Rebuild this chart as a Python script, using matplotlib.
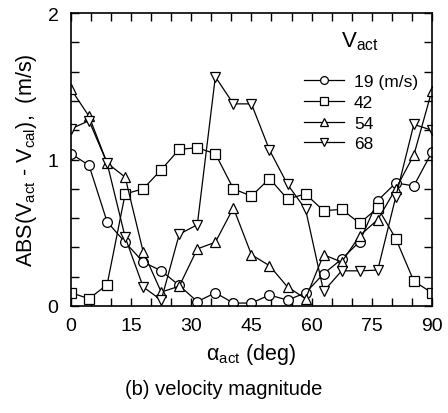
import matplotlib
matplotlib.use("Agg")
import matplotlib.pyplot as plt
import numpy as np
from matplotlib.ticker import MultipleLocator

plt.rcParams['font.family'] = ['Liberation Sans', 'DejaVu Sans']
plt.rcParams['mathtext.fontset'] = 'custom'
plt.rcParams['mathtext.rm'] = 'Liberation Sans'
plt.rcParams['mathtext.it'] = 'Liberation Sans:italic'

# angle of attack (deg), 21 points
alpha = [0, 4.5, 9, 13.5, 18, 22.5, 27, 31.5, 36, 40.5, 45,
         49.5, 54, 58.5, 63, 67.5, 72, 76.5, 81, 85.5, 90]

v19 = [1.04, 0.96, 0.575, 0.435, 0.30, 0.24, 0.14, 0.03, 0.09, 0.02, 0.02,
       0.075, 0.04, 0.09, 0.22, 0.32, 0.44, 0.72, 0.84, 0.82, 1.05]
v42 = [0.09, 0.05, 0.145, 0.765, 0.80, 0.93, 1.07, 1.08, 1.04, 0.80, 0.75,
       0.87, 0.73, 0.765, 0.65, 0.66, 0.565, 0.67, 0.46, 0.17, 0.09]
v54 = [1.48, 1.295, 0.976, 0.88, 0.37, 0.095, 0.135, 0.39, 0.435, 0.67, 0.35,
       0.275, 0.13, 0.05, 0.35, 0.30, 0.48, 0.59, 0.80, 1.03, 1.47]
v68 = [1.21, 1.265, 0.976, 0.47, 0.13, 0.04, 0.49, 0.555, 1.565, 1.38, 1.38,
       1.065, 0.83, 0.66, 0.10, 0.24, 0.24, 0.245, 0.745, 1.24, 1.20]

labels = ['19 (m/s)', '42', '54', '68']
markers = ['o', 's', '^', 'v']

fig = plt.figure(figsize=(4.48, 4.14), dpi=100)
ax = fig.add_axes([0.1585, 0.2585, 0.8055, 0.7075])

for y, lab, m in zip([v19, v42, v54, v68], labels, markers):
    ax.plot(alpha, y, marker=m, color='black', markerfacecolor='white',
            markersize=7, linewidth=0.9, markeredgewidth=0.9, label=lab)

ax.set_xlim(0, 90)
ax.set_ylim(0, 2)
ax.xaxis.set_major_locator(MultipleLocator(15))
ax.xaxis.set_minor_locator(MultipleLocator(5))
ax.yaxis.set_major_locator(MultipleLocator(1))
ax.yaxis.set_minor_locator(MultipleLocator(0.2))
ax.tick_params(which='both', direction='in', top=True, right=True,
               labelsize=14, length=6, width=1)
ax.tick_params(axis='x', pad=8)
ax.tick_params(axis='y', pad=9)
for s in ax.spines.values():
    s.set_linewidth(1.2)

ax.set_xlabel('α$_{\\rm act}$ (deg)', fontsize=15.5, labelpad=5)
ax.set_ylabel(r'ABS(V$_{\rm act}$ - V$_{\rm cal}$),  (m/s)', fontsize=15.5,
              labelpad=6)

# legend title drawn separately (larger gap to the entries)
ax.text(0.80, 0.904, r'V$_{\rm act}$', transform=ax.transAxes,
        ha='center', va='center', fontsize=16)
leg = ax.legend(loc='upper left', bbox_to_anchor=(0.603, 0.845), frameon=False,
                fontsize=12.5, handlelength=2.3, handletextpad=0.57,
                labelspacing=0.32, markerscale=0.8)

fig.text(0.5, 0.058, '(b) velocity magnitude', ha='center', va='center',
         fontsize=14.5)

fig.savefig('out.png', dpi=100)
